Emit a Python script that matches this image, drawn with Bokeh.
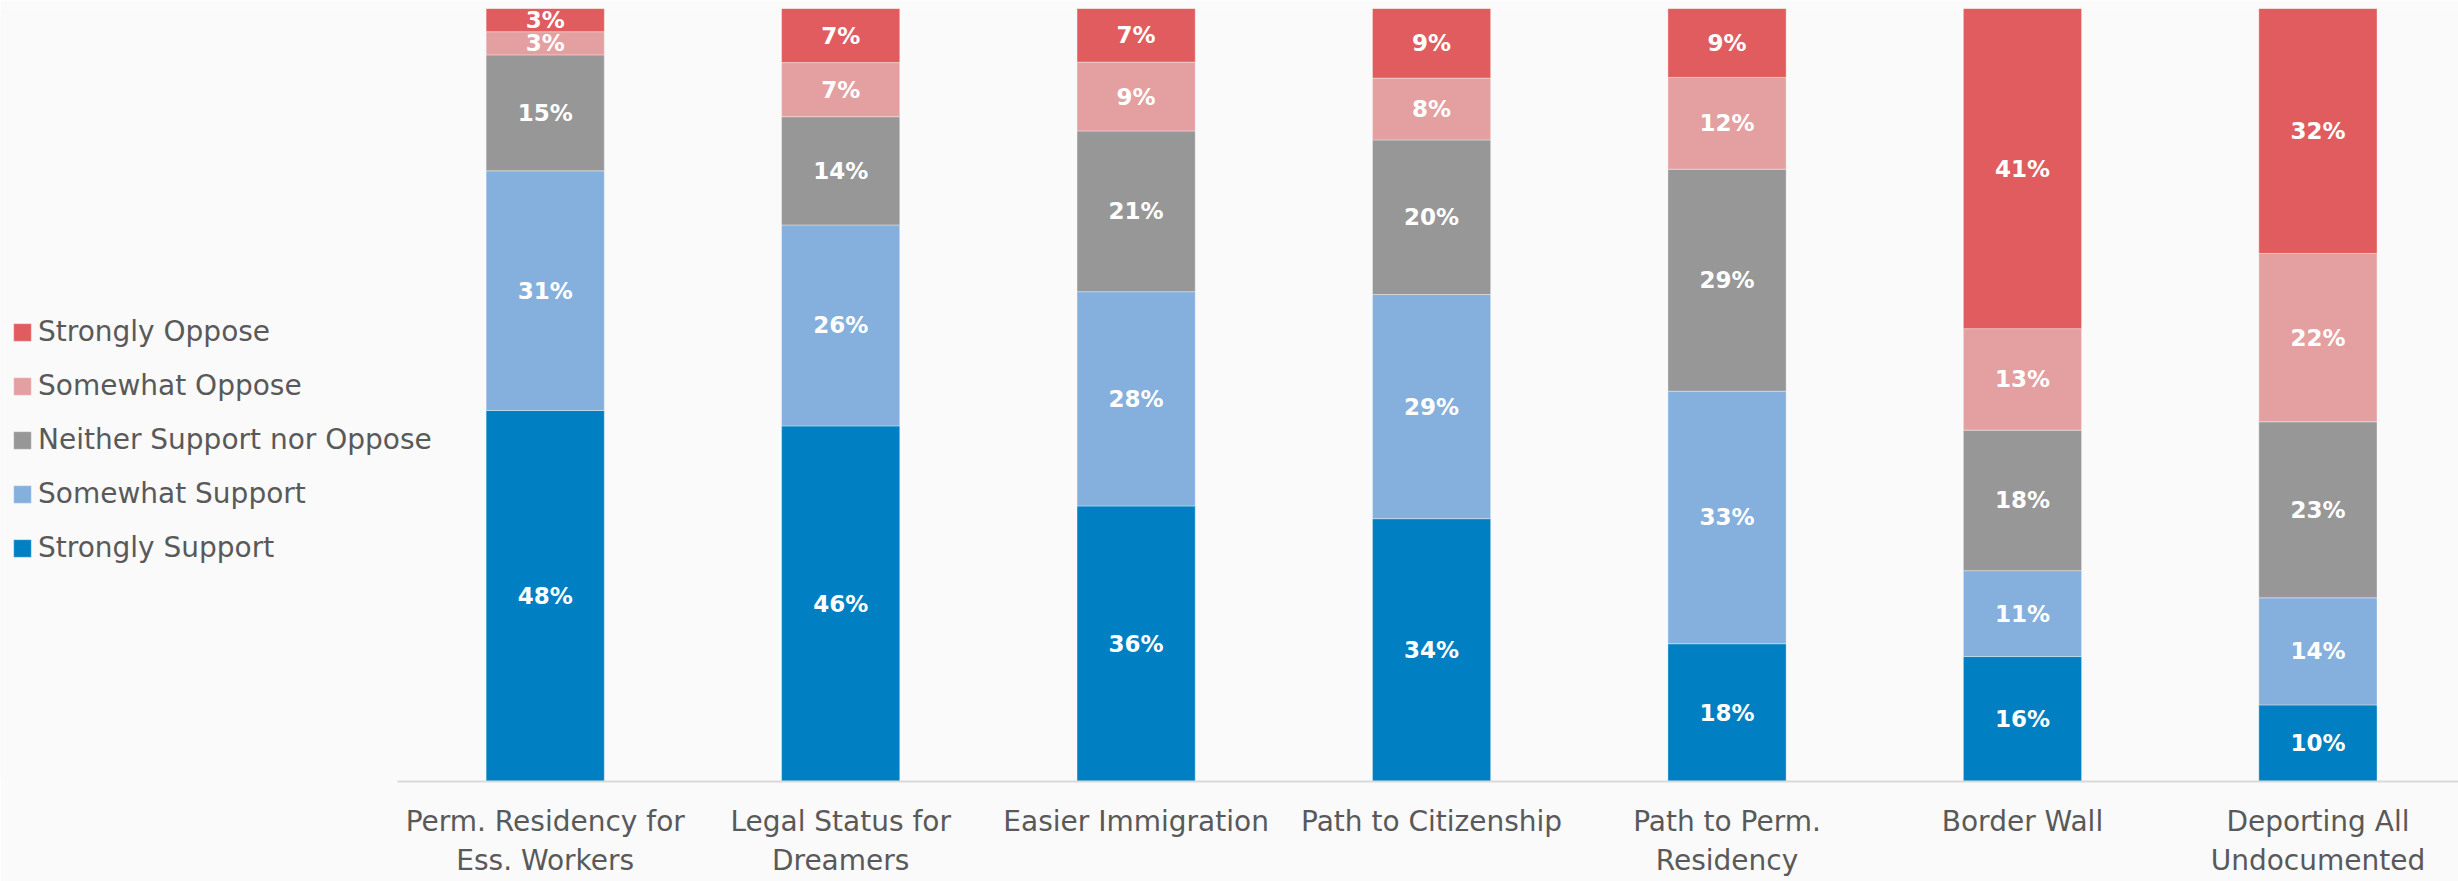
from bokeh.plotting import figure
from bokeh.models import ColumnDataSource, Legend, LegendItem, FixedTicker, Range1d
from bokeh.core.properties import value
from bokeh.embed import file_html
from bokeh.resources import INLINE

# ---- data ----
categories = [
    "Perm. Residency for\nEss. Workers",
    "Legal Status for\nDreamers",
    "Easier Immigration",
    "Path to Citizenship",
    "Path to Perm.\nResidency",
    "Border Wall",
    "Deporting All\nUndocumented",
]
strongly_support = [48, 46, 36, 34, 18, 16, 10]
somewhat_support = [31, 26, 28, 29, 33, 11, 14]
neither = [15, 14, 21, 20, 29, 18, 23]
somewhat_oppose = [3, 7, 9, 8, 12, 13, 22]
strongly_oppose = [3, 7, 7, 9, 9, 41, 32]

series_names = ["Strongly Support", "Somewhat Support", "Neither Support nor Oppose",
                "Somewhat Oppose", "Strongly Oppose"]
series_values = [strongly_support, somewhat_support, neither, somewhat_oppose, strongly_oppose]
colors = ["#0080C3", "#85B0DD", "#979797", "#E4A0A0", "#E05C5E"]

# ---- build (100% stacked) ----
n = len(categories)
xs = list(range(n))
totals = [sum(col) for col in zip(*series_values)]
keys = ["s%d" % i for i in range(len(series_values))]
data = {"x": xs}
for k, vals in zip(keys, series_values):
    data[k] = [v / t for v, t in zip(vals, totals)]
source = ColumnDataSource(data)

BG = "#FAFAFA"
W, H = 2458, 881
x_start = -1.8437
x_end = x_start + 8.3195
p = figure(width=W, height=H,
           x_range=Range1d(x_start, x_end), y_range=Range1d(0, 1),
           output_backend="svg", toolbar_location=None,
           min_border_left=0, min_border_right=0, min_border_top=8, min_border_bottom=100,
           background_fill_color=BG, border_fill_color=BG, outline_line_color=None)

renderers = p.vbar_stack(keys, x="x", width=0.4, color=colors, source=source,
                         line_color="#FFFFFF", line_alpha=0.35, line_width=1)

# segment labels
lx, ly, lt = [], [], []
cum = [0.0] * n
for k, vals in zip(keys, series_values):
    fr = data[k]
    for i in range(n):
        lx.append(xs[i])
        ly.append(cum[i] + fr[i] / 2)
        lt.append("%d%%" % vals[i])
        cum[i] += fr[i]
lab_src = ColumnDataSource(dict(x=lx, y=ly, t=lt))
p.text(x="x", y="y", text="t", source=lab_src, text_align="center", text_baseline="middle",
       text_color="white", text_font=value("DejaVu Sans"), text_font_style="bold",
       text_font_size="23px")

# axes
p.yaxis.visible = False
p.xgrid.visible = False
p.ygrid.visible = False
p.xaxis.bounds = (-0.5, 6.5)
p.xaxis.ticker = FixedTicker(ticks=xs)
p.xaxis.major_label_overrides = {i: c for i, c in zip(xs, categories)}
p.xaxis.axis_line_color = "#D9D9D9"
p.xaxis.axis_line_width = 2
p.xaxis.major_tick_line_color = None
p.xaxis.minor_tick_line_color = None
p.xaxis.major_tick_out = 0
p.xaxis.major_tick_in = 0
p.xaxis.major_label_standoff = 23
p.xaxis.major_label_text_font = "DejaVu Sans"
p.xaxis.major_label_text_font_size = "28px"
p.xaxis.major_label_text_color = "#595959"

# legend (top-down: Strongly Oppose first)
items = [LegendItem(label=name, renderers=[r]) for name, r in zip(series_names, renderers)]
items = items[::-1]
legend = Legend(items=items, location=(11, 217), orientation="vertical",
                padding=0, margin=0, spacing=21, glyph_width=22, glyph_height=22,
                label_standoff=5, label_text_font_size="28px", label_text_color="#595959",
                label_text_font="DejaVu Sans", background_fill_alpha=0, border_line_alpha=0)
p.add_layout(legend, "center")

open("out.html", "w").write(file_html(p, INLINE))
